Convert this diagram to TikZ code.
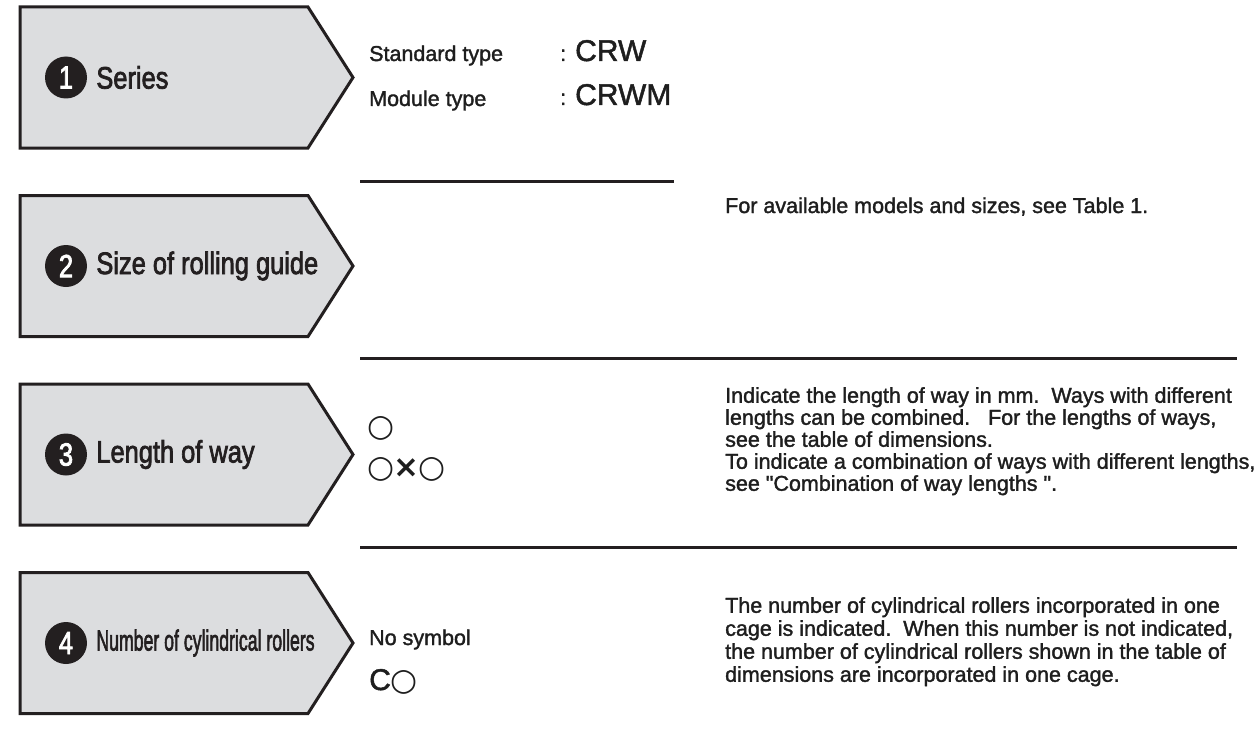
\documentclass[tikz,border=0pt]{standalone}
\usepackage{fontspec}
\setmainfont{Liberation Sans}
\newfontfamily\medfont{Liberation Sans}[FakeBold=1.6]
\newfontfamily\labfont{Liberation Sans}[FakeBold=2.6]
\newfontfamily\symfont{DejaVu Sans}
\usepackage{graphicx}
\usetikzlibrary{positioning}
\definecolor{boxgrey}{RGB}{220,221,223}
\definecolor{ink}{RGB}{35,31,32}
\definecolor{txt}{RGB}{30,30,30}

\begin{document}
\begin{tikzpicture}[x=1pt, y=-1pt,
  stepshape/.style={draw=ink, fill=boxgrey, line width=3pt, line join=miter},
  numdot/.style={circle, fill=ink, text=white, minimum size=42pt, inner sep=0pt,
    font=\labfont\fontsize{32}{32}\selectfont},
  steplabel/.style={anchor=west, inner sep=0pt, text=ink},
  body/.style={anchor=base west, inner sep=0pt, text=txt, font=\medfont\fontsize{21.5}{22}\selectfont},
  bigcode/.style={body, font=\medfont\fontsize{30}{30}\selectfont},
  para/.style={anchor=north west, inner sep=0pt, align=left, text=txt},
  rule/.style={draw=ink, line width=3pt}]
  \useasboundingbox (0,0) rectangle (1257,733);
  % arrow boxes with numbers
  \foreach \y/\n/\fs/\sx/\lab in {7/1/31/0.82/Series, 195.5/2/31/0.82/Size of rolling guide,
      384/3/31/0.82/Length of way, 572.5/4/29/0.61/Number of cylindrical rollers} {
    \draw[stepshape] (20,\y) -- (308,\y) -- (353,\y+70.5) -- (308,\y+141)
      -- (20,\y+141) -- cycle;
    \node[numdot] (num\n) at (66,\y+70.5) {\scalebox{0.8}[1]{\n}};
    \node[steplabel, right=9pt of num\n, font=\labfont\fontsize{\fs}{\fs}\selectfont]
      (lab\n) {\scalebox{\sx}[1]{\lab}};
  }
  % separator lines
  \draw[rule] (360,181) -- (674,181);
  \draw[rule] (360,358) -- (1237,358);
  \draw[rule] (360,547) -- (1237,547);
  % 1 series
  \node[body] (std) at (369,61) {Standard type};
  \node[body] (mod) at (369,106) {Module type};
  \node[bigcode] (crw) at (560,61) {{\fontsize{21.5}{22}\selectfont :}\kern9pt CRW};
  \node[bigcode] (crwm) at (560,105) {{\fontsize{21.5}{22}\selectfont :}\kern9pt CRWM};
  % 2 size
  \node[body] (sizenote) at (725,213) {For available models and sizes, see Table 1.};
  % 3 length
  \node[body] (len1) at (367,436) {\symfont\fontsize{31}{31}\selectfont ○};
  \node[body] (len2) at (367,477) {\symfont\fontsize{31}{31}\selectfont ○\kern-1pt{\bfseries ×}\kern-1pt○};
  \node[para, font=\medfont\fontsize{21.5}{22}\selectfont] (lennote) at (725,387)
    {Indicate the length of way in mm.\ \ Ways with different\\
     lengths can be combined.\ \ \ For the lengths of ways,\\
     see the table of dimensions.\\
     To indicate a combination of ways with different lengths,\\
     see "Combination of way lengths ".};
  % 4 rollers
  \node[body] (nosym) at (369,645) {No symbol};
  \node[bigcode] (cnum) at (369,690) {C{\symfont\fontsize{31}{31}\selectfont ○}};
  \node[para, font=\medfont\fontsize{21.5}{23}\selectfont] (rollnote) at (725,597)
    {The number of cylindrical rollers incorporated in one\\
     cage is indicated.\ \ When this number is not indicated,\\
     the number of cylindrical rollers shown in the table of\\
     dimensions are incorporated in one cage.};
\end{tikzpicture}
\end{document}
